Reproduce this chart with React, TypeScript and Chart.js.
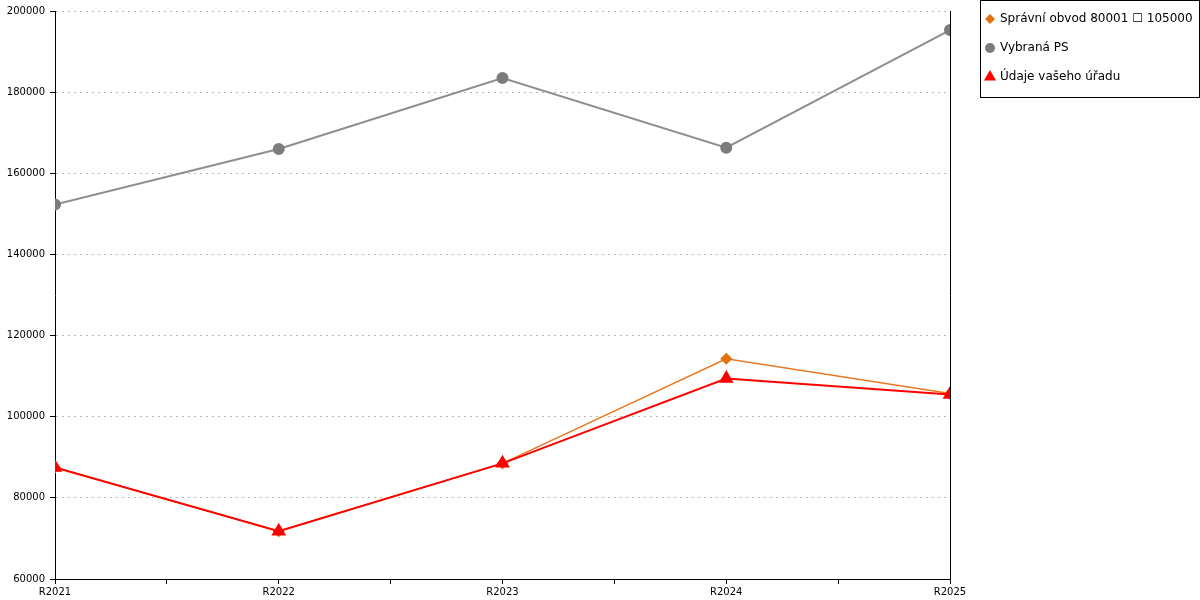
import React, { useEffect, useRef } from "react";
import { Chart, registerables } from "chart.js";

Chart.register(...registerables);

const categories = ["R2021", "R2022", "R2023", "R2024", "R2025"];
const seriesNames = ["Správní obvod 80001 ☐ 105000", "Vybraná PS", "Údaje vašeho úřadu"];
const spravniObvod = [87500, 71800, 88500, 114300, 105700];
const vybranaPS = [152300, 166000, 183500, 166300, 195300];
const udajeUradu = [87500, 71800, 88500, 109400, 105500];
const yTicks = [60000, 80000, 100000, 120000, 140000, 160000, 180000, 200000];

const FONT = "'DejaVu Sans', Verdana, sans-serif";

const toPoints = (vals: number[]) => vals.map((v, i) => ({ x: i, y: v }));

const boxedLegend = {
  id: "boxedLegend",
  afterDraw(chart: any) {
    const { ctx, chartArea } = chart;
    const left = chartArea.right + 30;
    const top = 0.5;
    const width = 219;
    const itemGap = 29;
    const n = chart.data.datasets.length;
    const height = 19 + (n - 1) * itemGap + 20;
    ctx.save();
    ctx.strokeStyle = "#000";
    ctx.lineWidth = 1;
    ctx.strokeRect(Math.round(left) + 0.5, top, width, height);
    chart.data.datasets.forEach((ds: any, i: number) => {
      const cx = left + 10;
      const cy = 19 + i * itemGap;
      ctx.fillStyle = ds.pointBackgroundColor;
      ctx.beginPath();
      if (ds.pointStyle === "rectRot") {
        const r = 5;
        ctx.moveTo(cx, cy - r);
        ctx.lineTo(cx + r, cy);
        ctx.lineTo(cx, cy + r);
        ctx.lineTo(cx - r, cy);
        ctx.closePath();
      } else if (ds.pointStyle === "triangle") {
        const r = 7;
        ctx.moveTo(cx, cy - r);
        ctx.lineTo(cx + r * 0.866, cy + r * 0.5);
        ctx.lineTo(cx - r * 0.866, cy + r * 0.5);
        ctx.closePath();
      } else {
        ctx.arc(cx, cy, 5, 0, Math.PI * 2);
      }
      ctx.fill();
      ctx.fillStyle = "#000";
      ctx.font = `12px ${FONT}`;
      ctx.textBaseline = "middle";
      ctx.textAlign = "left";
      ctx.fillText(ds.label, left + 20, cy);
    });
    ctx.restore();
  },
};

export default function App() {
  const ref = useRef<HTMLCanvasElement | null>(null);

  useEffect(() => {
    if (!ref.current) return;
    const chart = new Chart(ref.current, {
      type: "line",
      data: {
        datasets: [
          {
            label: seriesNames[0],
            data: toPoints(spravniObvod),
            borderColor: "#e8771f",
            backgroundColor: "#e8771f",
            pointBackgroundColor: "#e2700f",
            pointBorderColor: "#e2700f",
            pointStyle: "rectRot",
            pointRadius: 5,
            borderWidth: 1.5,
            tension: 0,
            order: 1,
          },
          {
            label: seriesNames[1],
            data: toPoints(vybranaPS),
            borderColor: "#8e8e8e",
            backgroundColor: "#808080",
            pointBackgroundColor: "#7c7c7c",
            pointBorderColor: "#7c7c7c",
            pointStyle: "circle",
            pointRadius: 5,
            borderWidth: 2,
            tension: 0,
            order: 2,
          },
          {
            label: seriesNames[2],
            data: toPoints(udajeUradu),
            borderColor: "#ff0000",
            backgroundColor: "#ff0000",
            pointBackgroundColor: "#ff0000",
            pointBorderColor: "#ff0000",
            pointStyle: "triangle",
            pointRadius: 6.5,
            borderWidth: 2,
            tension: 0,
            order: 0,
          },
        ] as any,
      },
      plugins: [boxedLegend],
      options: {
        animation: false,
        responsive: false,
        maintainAspectRatio: false,
        layout: { padding: { top: 10, right: 250, left: 0, bottom: 0 } },
        plugins: {
          legend: { display: false },
          tooltip: { enabled: false },
        },
        scales: {
          x: {
            type: "linear",
            min: 0,
            max: categories.length - 1,
            afterFit: (s: any) => {
              s.height = 21;
            },
            afterBuildTicks: (s: any) => {
              const t: any[] = [];
              for (let v = 0; v <= categories.length - 1 + 1e-9; v += 0.5) t.push({ value: v });
              s.ticks = t;
            },
            ticks: {
              autoSkip: false,
              maxRotation: 0,
              padding: 2,
              color: "#000",
              font: { family: FONT, size: 10 },
              callback: (v: any) => (Number.isInteger(v) ? categories[v] : ""),
            },
            grid: {
              drawOnChartArea: false,
              drawTicks: true,
              tickLength: 5,
              tickColor: "#000",
            },
            border: { display: true, color: "#000", width: 1 },
          },
          y: {
            type: "linear",
            min: 60000,
            max: 200000,
            afterFit: (s: any) => {
              s.width = 55;
            },
            afterBuildTicks: (s: any) => {
              s.ticks = yTicks.map((v) => ({ value: v }));
            },
            ticks: {
              padding: 5,
              color: "#000",
              font: { family: FONT, size: 10 },
              callback: (v: any) => String(v),
            },
            grid: {
              color: "#b8b8b8",
              lineWidth: 1,
              tickLength: 5,
              tickColor: "#000",
            },
            border: { display: true, color: "#000", width: 1, dash: [2, 4] },
          },
          y2: {
            type: "linear",
            position: "right",
            min: 60000,
            max: 200000,
            z: 1,
            afterFit: (s: any) => {
              s.width = 0;
            },
            ticks: { display: false },
            grid: { display: false, drawOnChartArea: false, drawTicks: false },
            border: { display: true, color: "#000", width: 1 },
          },
        },
      } as any,
    });
    return () => chart.destroy();
  }, []);

  return (
    <div style={{ position: "absolute", left: 0, top: 0, width: 1200, height: 600, background: "#fff" }}>
      <canvas ref={ref} width={1200} height={600} style={{ width: 1200, height: 600, display: "block" }} />
    </div>
  );
}
